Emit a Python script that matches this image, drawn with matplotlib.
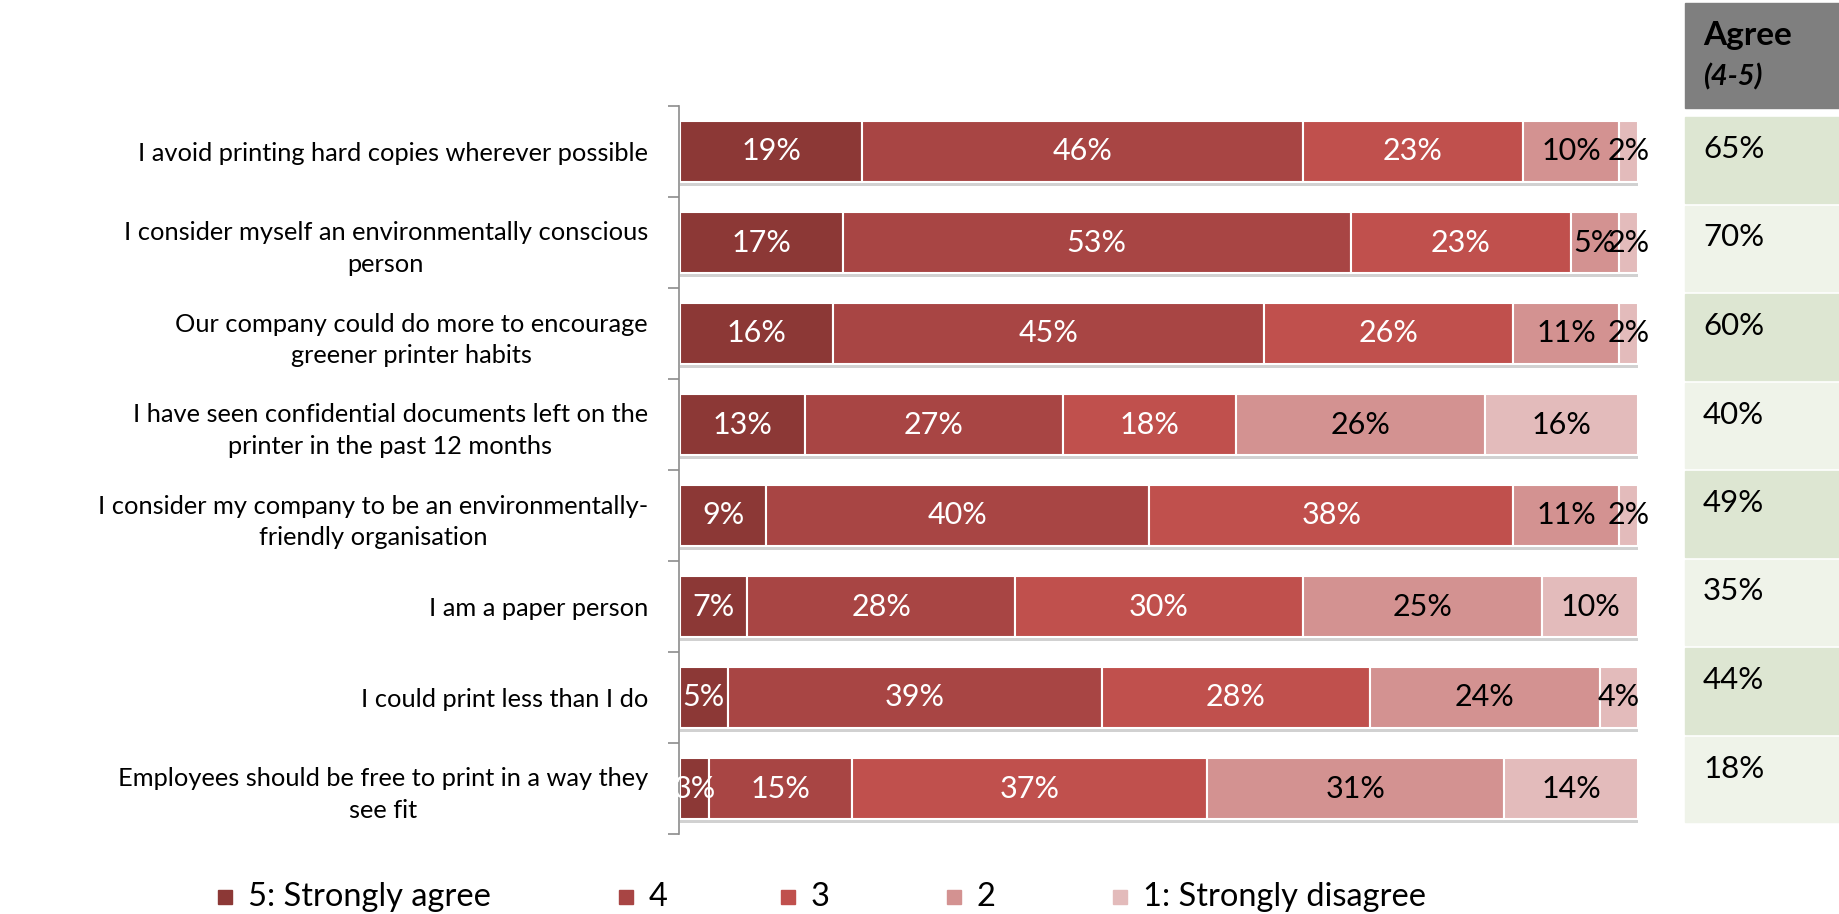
#!/usr/bin/env python3
# Stacked 100% bar chart of printing-attitude survey answers, with a side
# "Agree (4-5)" column drawn as a small table on the right.
import numpy as np
import matplotlib
matplotlib.use("Agg")
import matplotlib.pyplot as plt
import matplotlib.patheffects as pe
from matplotlib.patches import Rectangle

plt.rcParams["font.family"] = ["Lato", "DejaVu Sans"]

statements = [
    "I avoid printing hard copies wherever possible",
    "I consider myself an environmentally conscious\nperson",
    "Our company could do more to encourage\ngreener printer habits",
    "I have seen confidential documents left on the\nprinter in the past 12 months",
    "I consider my company to be an environmentally-\nfriendly organisation",
    "I am a paper person",
    "I could print less than I do",
    "Employees should be free to print in a way they\nsee fit",
]
series_names = ["5: Strongly agree", "4", "3", "2", "1: Strongly disagree"]
strongly_agree = [19, 17, 16, 13, 9, 7, 5, 3]
agree = [46, 53, 45, 27, 40, 28, 39, 15]
neutral = [23, 23, 26, 18, 38, 30, 28, 37]
disagree = [10, 5, 11, 26, 11, 25, 24, 31]
strongly_disagree = [2, 2, 2, 16, 2, 10, 4, 14]
agree_4_5 = [65, 70, 60, 40, 49, 35, 44, 18]

colors = ["#8C3836", "#A84544", "#C0504D", "#D39291", "#E3BBBB"]
label_colors = ["white", "white", "white", "black", "black"]

W, H = 1839, 914
fig = plt.figure(figsize=(W / 100, H / 100), dpi=100)

# main bar axes (pixel layout of the reference)
x0, x1, ytop, ybot = 680, 1638, 106, 834
ax = fig.add_axes([x0 / W, 1 - ybot / H, (x1 - x0) / W, (ybot - ytop) / H])
# spine first: set_position resets the ticks
for s in ("top", "right", "bottom"):
    ax.spines[s].set_visible(False)
ax.spines["left"].set_position(("outward", 1))
ax.spines["left"].set_color("#8c8c8c")
ax.spines["left"].set_linewidth(1.2)

data = np.array([strongly_agree, agree, neutral, disagree, strongly_disagree], float)
y = np.arange(len(statements))
left = np.zeros(len(statements))
shadow = [pe.SimplePatchShadow(offset=(0, -3), shadow_rgbFace="#9a9a9a", alpha=0.45),
          pe.Normal()]
for k, vals in enumerate(data):
    bars = ax.barh(y, vals, left=left, height=0.66, color=colors[k],
                   edgecolor="white", linewidth=1.5, label=series_names[k])
    for b in bars:
        b.set_path_effects(shadow)
    for yi, v, l in zip(y, vals, left):
        ax.text(l + v / 2, yi, f"{v:.0f}%", ha="center", va="center",
                fontsize=22, color=label_colors[k])
    left += vals

ax.set_xlim(0, 100)
ax.set_ylim(len(statements) - 0.5, -0.5)
ax.set_xticks([])
ax.set_yticks(y)
ax.set_yticks(np.arange(len(statements) + 1) - 0.5, minor=True)
ax.tick_params(axis="y", which="major", length=0, pad=22, labelsize=18.3)
ax.tick_params(axis="y", which="minor", length=8, width=1.2, color="#8c8c8c")
ax.set_yticklabels(statements, ha="right", multialignment="center", linespacing=1.45)

# "Agree (4-5)" table on the right, pixel coordinates
tx = 1685
tab = fig.add_axes([0, 0, 1, 1], zorder=-1)
tab.set_xlim(0, W)
tab.set_ylim(H, 0)
tab.axis("off")
tab.add_patch(Rectangle((tx, 3), W - tx, 105, color="#7F7F7F"))
tab.text(1703, 45, "Agree", fontsize=24, fontweight="bold", va="baseline")
tab.text(1703, 85, "(4-5)", fontsize=21, fontweight="bold", style="italic", va="baseline")
row_h = 88.5
for i, v in enumerate(agree_4_5):
    top = 117 + i * row_h
    fc = "#DDE6D2" if i % 2 == 0 else "#EFF3E9"
    tab.add_patch(Rectangle((tx, top), W - tx, row_h - 3, color=fc))
    tab.text(1703, top + 41, f"{v}%", fontsize=22.5, va="baseline")

# legend laid out as in the reference
sq_x = [218, 619, 781, 947, 1113]
for k, name in enumerate(series_names):
    tab.add_patch(Rectangle((sq_x[k], 890), 14, 14, color=colors[k]))
    tab.text(sq_x[k] + 30, 897, name, fontsize=23.5, va="center")

fig.savefig("out.png", dpi=100)
